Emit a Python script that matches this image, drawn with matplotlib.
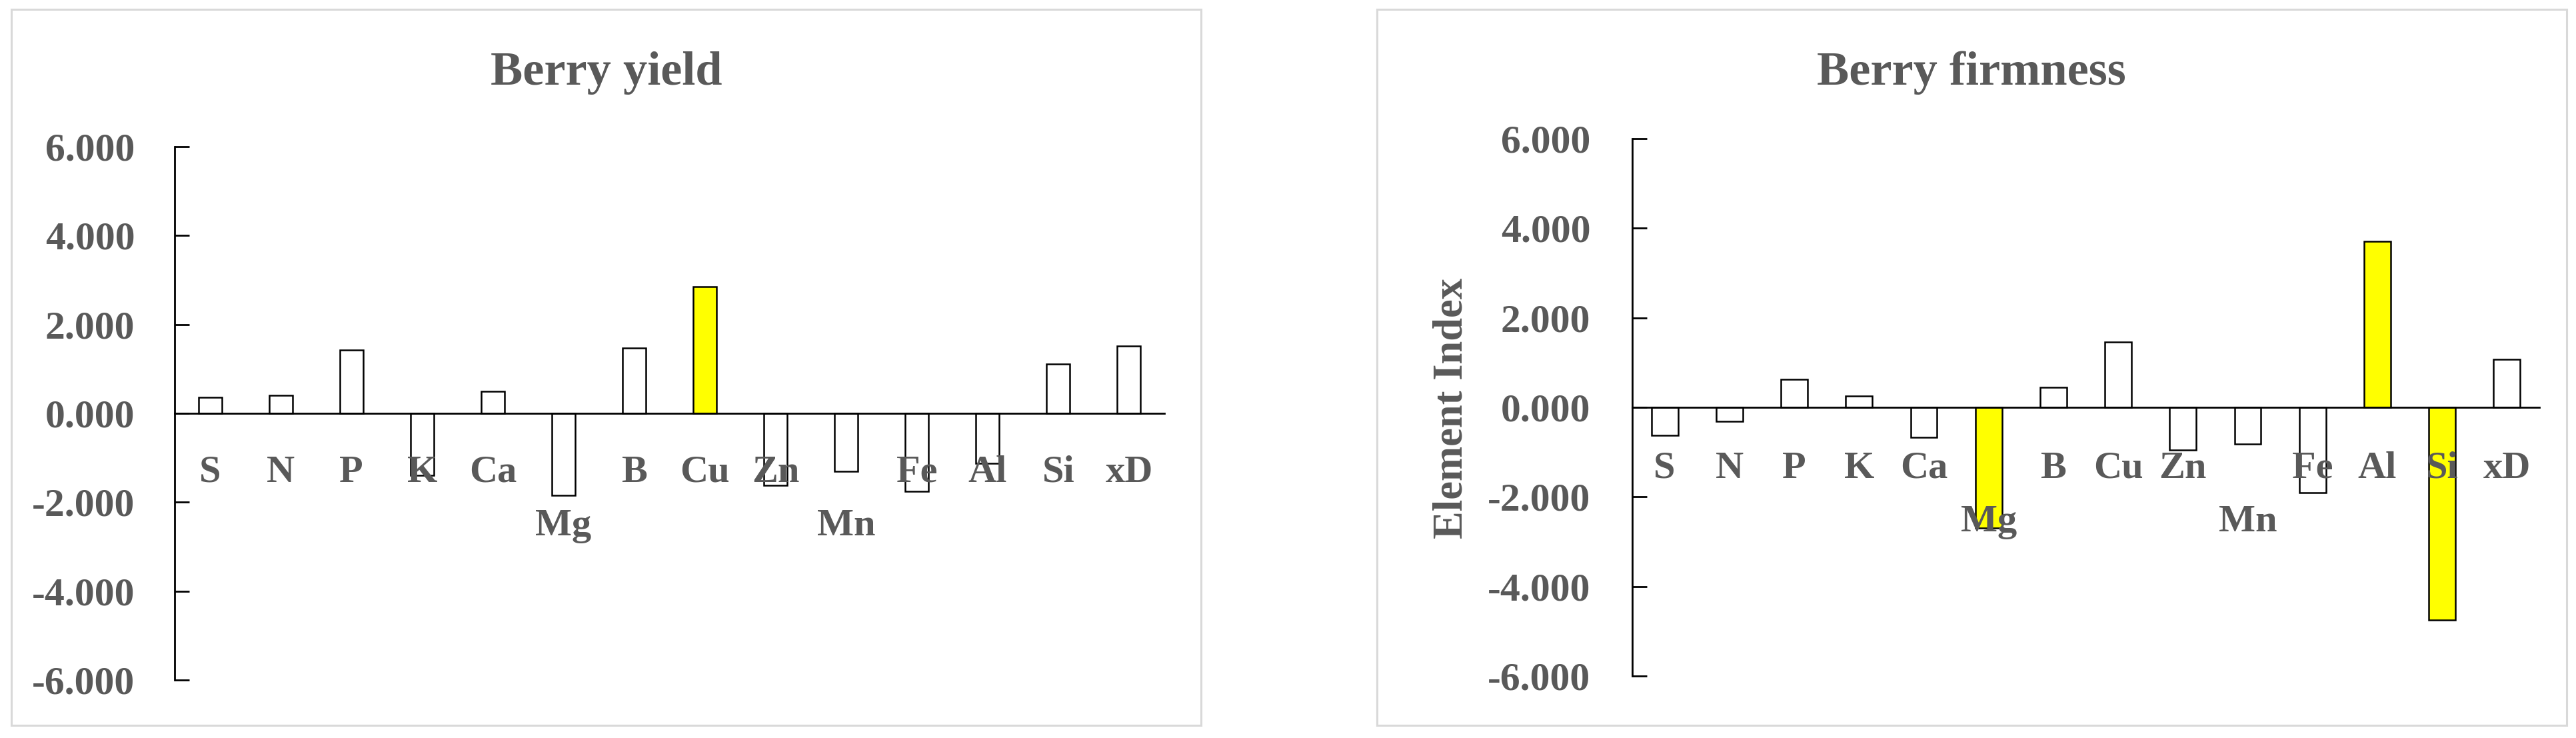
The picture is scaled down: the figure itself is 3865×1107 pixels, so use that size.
import matplotlib
matplotlib.use("Agg")
import matplotlib.pyplot as plt
from matplotlib import ticker
from matplotlib.patches import Rectangle

plt.rcParams['font.family'] = ['Liberation Serif', 'DejaVu Serif']
plt.rcParams['font.weight'] = 'bold'

# ---- data ----
elements = ["S", "N", "P", "K", "Ca", "Mg", "B", "Cu", "Zn", "Mn", "Fe", "Al", "Si", "xD"]
yield_index = [0.36, 0.40, 1.42, -1.39, 0.49, -1.84, 1.47, 2.85, -1.62, -1.30, -1.75, -1.12, 1.11, 1.51]
firmness_index = [-0.63, -0.31, 0.62, 0.26, -0.67, -2.70, 0.44, 1.46, -0.96, -0.82, -1.90, 3.70, -4.75, 1.07]
yield_highlight = ["Cu"]
firmness_highlight = ["Mg", "Al", "Si"]
lowered_labels = ["Mg", "Mn"]
titles = ["Berry yield", "Berry firmness"]
y_label = "Element Index"
y_ticks = [-6, -4, -2, 0, 2, 4, 6]

W, H = 3866, 1107
fig = plt.figure(figsize=(W / 100, H / 100), dpi=100)
fig.patch.set_facecolor("white")

TEXT = "#595959"
YELLOW = "#FFFF00"


def px_x(v):
    return v / W


def px_y(v):
    return 1 - v / H


# frames
for x0, x1 in [(17, 1802), (2066, 3851)]:
    fig.patches.append(Rectangle((px_x(x0), px_y(1088)), px_x(x1 - x0), (1088 - 14) / H,
                                 transform=fig.transFigure, fill=False,
                                 edgecolor="#D9D9D9", linewidth=2.2, zorder=0))

panels = [
    dict(vals=yield_index, hl=yield_highlight, title=titles[0],
         ax_px=(262, 1747, 220, 1020), width=0.33, off=(74, 132), pad=43, tx=910),
    dict(vals=firmness_index, hl=firmness_highlight, title=titles[1],
         ax_px=(2449, 3810, 208, 1014), width=0.41, off=(76, 134), pad=45, tx=2958),
]

for p in panels:
    l, r, t, b = p["ax_px"]
    ax = fig.add_axes([px_x(l), px_y(b), (r - l) / W, (b - t) / H])
    ax.set_facecolor("none")
    x = list(range(len(elements)))
    colors = [YELLOW if e in p["hl"] else "white" for e in elements]
    ax.bar(x, p["vals"], width=p["width"], color=colors, edgecolor="black",
           linewidth=1.8, zorder=3)
    ax.set_xlim(-0.5, len(elements) - 0.5)
    ax.set_ylim(-6, 6)
    ax.spines["top"].set_visible(False)
    ax.spines["right"].set_visible(False)
    ax.spines["bottom"].set_position(("data", 0))
    ax.spines["bottom"].set_linewidth(2.0)
    ax.spines["left"].set_linewidth(2.0)
    ax.spines["bottom"].set_zorder(4)
    ax.set_xticks([])
    ax.set_yticks(y_ticks)
    ax.yaxis.set_major_formatter(ticker.FormatStrFormatter("%.3f"))
    ax.tick_params(axis="y", direction="in", length=15.5, width=2.0, pad=p["pad"],
                   labelsize=43, labelcolor=TEXT, color="black")
    for lab in ax.get_yticklabels():
        lab.set_fontweight("bold")
    for i, e in enumerate(elements):
        off = p["off"][1] if e in lowered_labels else p["off"][0]
        ax.annotate(e, xy=(i, 0), xytext=(0, -off), textcoords="offset points",
                    ha="center", va="baseline", fontsize=42, color=TEXT,
                    fontweight="bold", annotation_clip=False, zorder=5)
    fig.text(px_x(p["tx"]), px_y(127), p["title"], ha="center", va="baseline",
             fontsize=52, color=TEXT, fontweight="bold")

fig.text(px_x(2178), px_y(612), y_label, rotation=90, ha="center", va="center",
         fontsize=45, color=TEXT, fontweight="bold")

fig.savefig("out.png", dpi=100, facecolor="white")
